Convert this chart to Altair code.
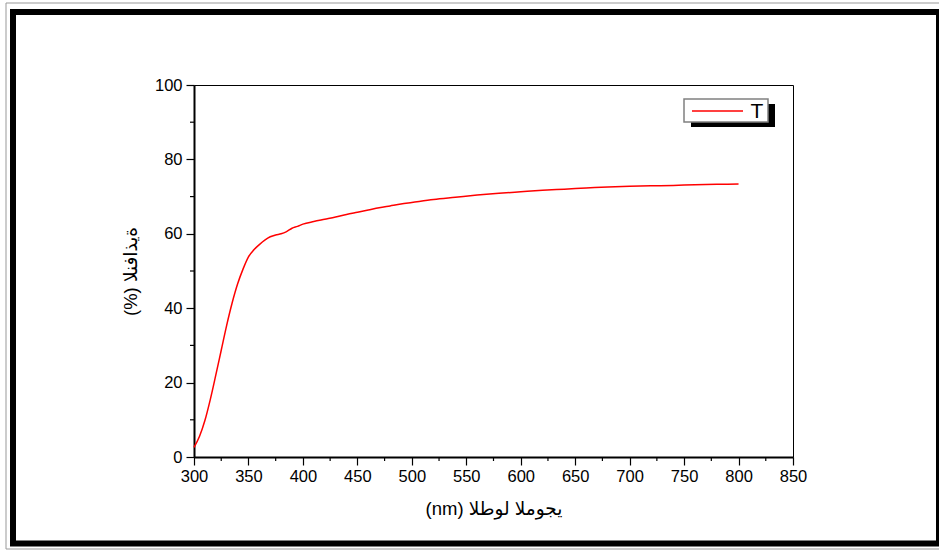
import altair as alt
import pandas as pd

# Transmittance spectrum
wavelength = [300, 305, 310, 315, 320, 325, 330, 335, 340, 345, 350, 355, 360, 365,
              370, 375, 380, 385, 390, 395, 400, 410, 420, 430, 440, 450, 460, 470,
              480, 490, 500, 520, 540, 560, 580, 600, 620, 640, 660, 680, 700, 720,
              740, 760, 780, 800]
transmittance = [2.6, 5.5, 9.8, 15.5, 22.0, 28.7, 35.4, 41.4, 46.5, 50.5, 53.8, 55.7,
                 57.1, 58.3, 59.2, 59.7, 60.0, 60.6, 61.5, 62.0, 62.6, 63.3, 63.9, 64.5,
                 65.2, 65.8, 66.4, 67.0, 67.5, 68.0, 68.4, 69.2, 69.8, 70.4, 70.9, 71.3,
                 71.7, 72.0, 72.3, 72.6, 72.8, 72.9, 73.0, 73.2, 73.3, 73.4]
series_name = "T"

x_major = [300, 350, 400, 450, 500, 550, 600, 650, 700, 750, 800, 850]
x_minor = [325, 375, 425, 475, 525, 575, 625, 675, 725, 775, 825]
y_major = [0, 20, 40, 60, 80, 100]
y_minor = [10, 30, 50, 70, 90]

x_title = "\u202d(nm) الطول الموجي\u202c"
y_title = "\u202d(%) النفاذية\u202c"

FONT = "Liberation Sans, Arial, DejaVu Sans"
W, H = 599, 372

df = pd.DataFrame({"wl": wavelength, "t": transmittance, "series": series_name})
xmin_df = pd.DataFrame({"v": x_minor})
ymin_df = pd.DataFrame({"v": y_minor})
one = pd.DataFrame({"a": [0]})
leg_df = pd.DataFrame({"series": [series_name]})

xscale = alt.Scale(domain=[300, 850], nice=False, zero=False)
yscale = alt.Scale(domain=[0, 100], nice=False)

line = alt.Chart(df).mark_line(strokeWidth=1.5, color="#ff0000", interpolate="monotone").encode(
    x=alt.X("wl:Q", scale=xscale, title=x_title,
            axis=alt.Axis(values=x_major, format="d", labelFont=FONT, labelFontSize=16.5,
                          labelColor="black", labelPadding=3, tickSize=8, tickWidth=1.2,
                          labelFlush=False, labelOverlap=False,
                          tickColor="black", domainColor="black", domainWidth=2,
                          grid=False, titleFont=FONT, titleFontSize=18.5,
                          titleFontWeight="normal", titleColor="black", titlePadding=15)),
    y=alt.Y("t:Q", scale=yscale, title=y_title,
            axis=alt.Axis(values=y_major, labelFont=FONT, labelFontSize=16.5,
                          labelColor="black", labelPadding=4, tickSize=8, tickWidth=1.2,
                          labelFlush=False, labelOverlap=False,
                          tickColor="black", domainColor="black", domainWidth=2,
                          grid=False, titleFont=FONT, titleFontSize=18.5,
                          titleFontWeight="normal", titleColor="black", titlePadding=14)),
)

xminor = alt.Chart(xmin_df).mark_rule(color="black", strokeWidth=1.2).encode(
    x=alt.X("v:Q", scale=xscale), y=alt.value(H), y2=alt.value(H + 4))
yminor = alt.Chart(ymin_df).mark_rule(color="black", strokeWidth=1.2).encode(
    y=alt.Y("v:Q", scale=yscale), x=alt.value(-4), x2=alt.value(0))

# legend (box with shadow, red sample line, label)
shadow = alt.Chart(one).mark_rect(color="black").encode(
    x=alt.value(497), x2=alt.value(581), y=alt.value(19), y2=alt.value(42))
leg_box = alt.Chart(one).mark_rect(fill="white", stroke="#808080", strokeWidth=1.5).encode(
    x=alt.value(490), x2=alt.value(574), y=alt.value(14), y2=alt.value(37))
leg_line = alt.Chart(one).mark_rule(color="#ff0000", strokeWidth=1.5).encode(
    x=alt.value(498), x2=alt.value(549), y=alt.value(26))
leg_text = alt.Chart(leg_df).mark_text(font=FONT, fontSize=21, color="black",
                                       align="center", baseline="alphabetic").encode(
    text="series:N", x=alt.value(563), y=alt.value(33))

# page frame (decoration)
frame_black = alt.Chart(one).mark_rect(filled=False, stroke="black", strokeWidth=6).encode(
    x=alt.value(-181), x2=alt.value(745), y=alt.value(-73), y2=alt.value(458.5))
frame_gray = alt.Chart(one).mark_rect(filled=False, stroke="#999999", strokeWidth=1).encode(
    x=alt.value(-188), x2=alt.value(755), y=alt.value(-82), y2=alt.value(464))

chart = alt.layer(frame_gray, frame_black, xminor, yminor, line,
                  shadow, leg_box, leg_line, leg_text).properties(
    width=W, height=H,
    padding={"left": 194, "top": 85, "right": 939 - 194 - W, "bottom": 551 - 85 - H},
    autosize="none",
    background="white",
).configure_view(stroke="black", strokeWidth=1)

chart.save("out.html", embed_options={"renderer": "svg", "actions": False})
